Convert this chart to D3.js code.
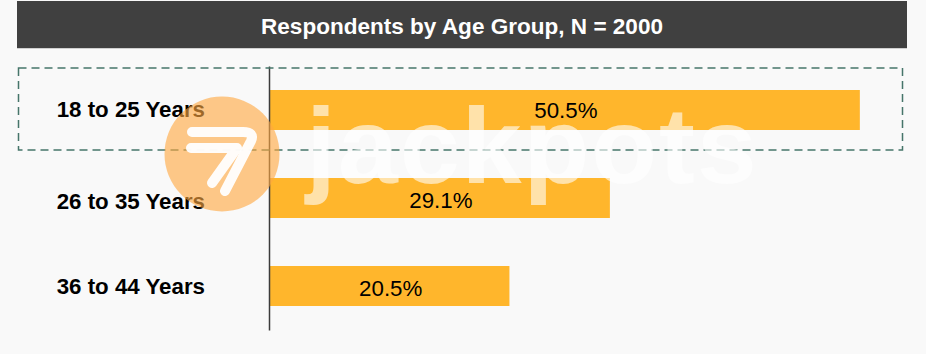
<!DOCTYPE html>
<html>
<head>
<meta charset="utf-8">
<script src="https://cdn.jsdelivr.net/npm/d3@7"></script>
<style>
    html, body { margin: 0; padding: 0; background: #f9f9f9; overflow: hidden; }
    text { font-family: "Liberation Sans", Arial, sans-serif; }
</style>
</head>
<body>
<div id="chart"></div>
<script>
const title = "Respondents by Age Group, N = 2000";
const categories = ["18 to 25 Years", "26 to 35 Years", "36 to 44 Years"];
const shares = [50.5, 29.1, 20.5];

function drawChart() {
    const width = 926;
    const height = 354;

    // the labels in the original don't sit quite centred on their bars
    const tickNudge = [0, 4, 1];
    const valueNudge = [0, 2, 2];

    const svg = d3.select("#chart")
        .append("svg")
        .attr("width", width)
        .attr("height", height)
        .style("display", "block");

    // Title band
    svg.append("rect")
        .attr("x", 17).attr("y", 1)
        .attr("width", 890).attr("height", 47)
        .attr("fill", "#404040");
    svg.append("line")
        .attr("x1", 17).attr("x2", 907)
        .attr("y1", 48.5).attr("y2", 48.5)
        .attr("stroke", "#d0d0d0");
    svg.append("text")
        .attr("x", 462).attr("y", 33.5)
        .attr("text-anchor", "middle")
        .attr("fill", "white")
        .attr("font-size", 22.55)
        .attr("font-weight", "bold")
        .text(title);

    // Scales
    const x = d3.scaleLinear().domain([0, 50]).range([270, 854]);
    const y = d3.scaleBand()
        .domain(categories)
        .range([66, 330])
        .paddingInner(48 / 88)
        .paddingOuter(24 / 88);

    // Bars
    svg.append("g")
        .selectAll("rect")
        .data(shares)
        .join("rect")
        .attr("x", x(0))
        .attr("y", (d, i) => y(categories[i]))
        .attr("width", d => x(d) - x(0))
        .attr("height", y.bandwidth())
        .attr("fill", "#ffb62c");

    // Value labels
    svg.append("g")
        .selectAll("text")
        .data(shares)
        .join("text")
        .attr("x", d => (x(0) + x(d)) / 2 + 1)
        .attr("y", (d, i) => y(categories[i]) + y.bandwidth() / 2 + 8 + valueNudge[i])
        .attr("text-anchor", "middle")
        .attr("font-size", 22.3)
        .attr("fill", "black")
        .text(d => d.toFixed(1) + "%");

    // Category axis
    const axis = svg.append("g")
        .attr("transform", "translate(269,0)")
        .call(d3.axisLeft(y).tickSize(0).tickPadding(64));
    axis.select(".domain")
        .attr("stroke", "#3c3c3c")
        .attr("stroke-width", 1.5);
    axis.selectAll("text")
        .attr("font-family", "Liberation Sans")
        .attr("font-size", 22.3)
        .attr("font-weight", "bold")
        .attr("fill", "black")
        .attr("transform", (d, i) => "translate(0," + tickNudge[i] + ")");

    // Highlight around the first row
    svg.append("rect")
        .attr("x", 18.5).attr("y", 68)
        .attr("width", 884).attr("height", 82)
        .attr("fill", "none")
        .attr("stroke", "#46756a")
        .attr("stroke-width", 1.5)
        .attr("stroke-dasharray", "8,5");

    // Watermark
    const mark = svg.append("g");
    mark.append("text")
        .attr("x", 306).attr("y", 183)
        .attr("font-family", "Inter")
        .attr("font-weight", 700)
        .attr("font-size", 108)
        .attr("letter-spacing", 1.8)
        .attr("fill", "white")
        .attr("fill-opacity", 0.6)
        .text("jackpots");
    mark.append("circle")
        .attr("cx", 222).attr("cy", 154).attr("r", 57.5)
        .attr("fill", "#ffa840")
        .attr("fill-opacity", 0.62);
    mark.selectAll("path")
        .data(["M192,132H243Q255,132 251,141L225,191", "M191,148H237L212,183"])
        .join("path")
        .attr("d", d => d)
        .attr("fill", "none")
        .attr("stroke", "white")
        .attr("stroke-opacity", 0.95)
        .attr("stroke-width", 10)
        .attr("stroke-linecap", "round")
        .attr("stroke-linejoin", "round");
}
drawChart();
</script>
</body>
</html>
